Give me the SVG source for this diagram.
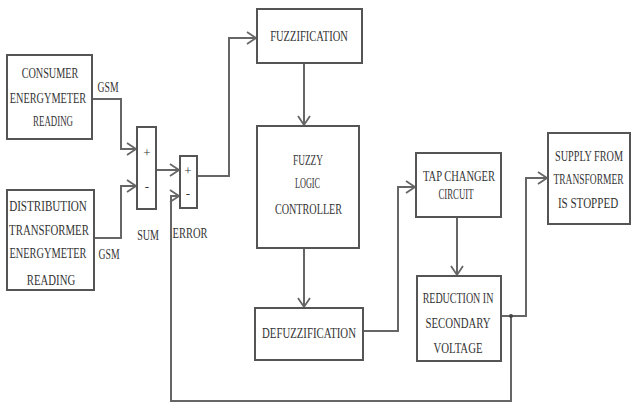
<svg xmlns="http://www.w3.org/2000/svg" width="631" height="403" viewBox="0 0 631 403">
<defs>
<style>
.box{fill:#fff;stroke:#555;stroke-width:2}
.ln{fill:none;stroke:#666;stroke-width:2}
text{font-family:"Liberation Serif","Times New Roman",serif;font-size:15.5px;fill:#333;text-anchor:middle}
.s{font-size:14px}
.p{font-size:13px}
</style>
<marker id="ah" markerUnits="userSpaceOnUse" markerWidth="14" markerHeight="14" viewBox="-12 -7 14 14" refX="0" refY="0" orient="auto">
<polyline points="-9,-6 0,0 -9,6" fill="none" stroke="#666" stroke-width="1.8"/>
</marker>
</defs>
<rect width="631" height="403" fill="#fff"/>
<g id="connectors">
<path class="ln" d="M92,99 H121 V149 H136" marker-end="url(#ah)"/>
<path class="ln" d="M94,238 H121 V186 H136" marker-end="url(#ah)"/>
<path class="ln" d="M156,170 H179" marker-end="url(#ah)"/>
<path class="ln" d="M197,176 H229 V38 H256" marker-end="url(#ah)"/>
<path class="ln" d="M304,63 V125" marker-end="url(#ah)"/>
<path class="ln" d="M304,248 V307" marker-end="url(#ah)"/>
<path class="ln" d="M363,331 H398 V187 H415" marker-end="url(#ah)"/>
<path class="ln" d="M457,217 V275" marker-end="url(#ah)"/>
<path class="ln" d="M501,316 H526 V178 H547" marker-end="url(#ah)"/>
<path class="ln" d="M511,316 V401 H171 V196 H179" marker-end="url(#ah)"/>
<circle cx="511" cy="316" r="2" fill="#444"/>
<text class="s" transform="translate(108 0) scale(.7 1)" x="0" y="92" textLength="30" lengthAdjust="spacingAndGlyphs">GSM</text>
<text class="s" transform="translate(109 0) scale(.7 1)" x="0" y="259" textLength="30" lengthAdjust="spacingAndGlyphs">GSM</text>
</g>
<g id="consumer">
<rect class="box" x="7" y="55" width="85" height="84"/>
<text transform="translate(50 0) scale(.7 1)" x="0" y="78" textLength="81" lengthAdjust="spacingAndGlyphs">CONSUMER</text>
<text transform="translate(48 0) scale(.7 1)" x="0" y="103" textLength="109" lengthAdjust="spacingAndGlyphs">ENERGYMETER</text>
<text transform="translate(53 0) scale(.7 1)" x="0" y="126" textLength="57" lengthAdjust="spacingAndGlyphs">READING</text>
</g>
<g id="distribution">
<rect class="box" x="7" y="190" width="87" height="100"/>
<text transform="translate(48 0) scale(.7 1)" x="0" y="211" textLength="111" lengthAdjust="spacingAndGlyphs">DISTRIBUTION</text>
<text transform="translate(49 0) scale(.7 1)" x="0" y="235" textLength="114" lengthAdjust="spacingAndGlyphs">TRANSFORMER</text>
<text transform="translate(48 0) scale(.7 1)" x="0" y="258" textLength="110" lengthAdjust="spacingAndGlyphs">ENERGYMETER</text>
<text transform="translate(51 0) scale(.7 1)" x="0" y="285" textLength="69" lengthAdjust="spacingAndGlyphs">READING</text>
</g>
<g id="sum">
<rect class="box" x="137" y="127" width="19" height="82"/>
<text x="147" y="157" class="p">+</text>
<text x="147" y="191" class="p">-</text>
<text transform="translate(148 0) scale(.7 1)" x="0" y="240" textLength="31" lengthAdjust="spacingAndGlyphs">SUM</text>
</g>
<g id="error">
<rect class="box" x="180" y="156" width="17" height="52"/>
<text x="188" y="175" class="p">+</text>
<text x="188" y="198" class="p">-</text>
<text transform="translate(190 0) scale(.7 1)" x="0" y="238" textLength="50" lengthAdjust="spacingAndGlyphs">ERROR</text>
</g>
<g id="fuzzification">
<rect class="box" x="257" y="9" width="105" height="54"/>
<text transform="translate(309 0) scale(.7 1)" x="0" y="41" textLength="111" lengthAdjust="spacingAndGlyphs">FUZZIFICATION</text>
</g>
<g id="flc">
<rect class="box" x="257" y="126" width="102" height="122"/>
<text transform="translate(308 0) scale(.7 1)" x="0" y="165" textLength="43" lengthAdjust="spacingAndGlyphs">FUZZY</text>
<text transform="translate(307.5 0) scale(.7 1)" x="0" y="188" textLength="36" lengthAdjust="spacingAndGlyphs">LOGIC</text>
<text transform="translate(308.5 0) scale(.7 1)" x="0" y="214" textLength="96" lengthAdjust="spacingAndGlyphs">CONTROLLER</text>
</g>
<g id="defuzzification">
<rect class="box" x="255" y="308" width="108" height="52"/>
<text transform="translate(309 0) scale(.7 1)" x="0" y="338" textLength="134" lengthAdjust="spacingAndGlyphs">DEFUZZIFICATION</text>
</g>
<g id="tapchanger">
<rect class="box" x="416" y="153" width="85" height="64"/>
<text transform="translate(459 0) scale(.7 1)" x="0" y="181" textLength="103" lengthAdjust="spacingAndGlyphs">TAP CHANGER</text>
<text transform="translate(456 0) scale(.7 1)" x="0" y="199" textLength="50" lengthAdjust="spacingAndGlyphs">CIRCUIT</text>
</g>
<g id="reduction">
<rect class="box" x="417" y="276" width="84" height="85"/>
<text transform="translate(458 0) scale(.7 1)" x="0" y="303" textLength="101" lengthAdjust="spacingAndGlyphs">REDUCTION IN</text>
<text transform="translate(458 0) scale(.7 1)" x="0" y="328" textLength="93" lengthAdjust="spacingAndGlyphs">SECONDARY</text>
<text transform="translate(458 0) scale(.7 1)" x="0" y="353" textLength="70" lengthAdjust="spacingAndGlyphs">VOLTAGE</text>
</g>
<g id="supply">
<rect class="box" x="548" y="133" width="82" height="91"/>
<text transform="translate(589 0) scale(.7 1)" x="0" y="161" textLength="97" lengthAdjust="spacingAndGlyphs">SUPPLY FROM</text>
<text transform="translate(588.5 0) scale(.62 1)" x="0" y="184" textLength="113" lengthAdjust="spacingAndGlyphs">TRANSFORMER</text>
<text transform="translate(588 0) scale(.7 1)" x="0" y="208" textLength="86" lengthAdjust="spacingAndGlyphs">IS STOPPED</text>
</g>
</svg>
